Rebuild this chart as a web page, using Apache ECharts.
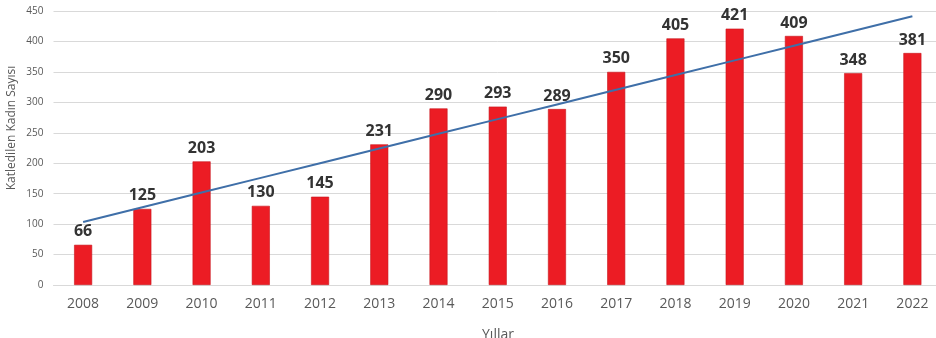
<!DOCTYPE html>
<html>
<head>
<meta charset="utf-8">
<script src="https://cdn.jsdelivr.net/npm/echarts@6/dist/echarts.min.js"></script>
<style>
  html, body { margin: 0; padding: 0; background: #ffffff; overflow: hidden; }
  /* plot area runs slightly past the right edge of the page */
  #chart { width: 942px; height: 338px; }
</style>
</head>
<body>
<div id="chart"></div>
<script>
// Years and number of women killed per year
const years = ['2008', '2009', '2010', '2011', '2012', '2013', '2014', '2015',
               '2016', '2017', '2018', '2019', '2020', '2021', '2022'];
const victims = [66, 125, 203, 130, 145, 231, 290, 293, 289, 350, 405, 421, 409, 348, 381];
const yTicks = { min: 0, max: 450, interval: 50 };

// Linear least-squares trend over the yearly counts
function linearTrend(values) {
  const n = values.length;
  const mx = (n - 1) / 2;
  const my = values.reduce((a, b) => a + b, 0) / n;
  let sxy = 0, sxx = 0;
  values.forEach((v, i) => { sxy += (i - mx) * (v - my); sxx += (i - mx) * (i - mx); });
  const slope = sxy / sxx;
  return values.map((_, i) => my + slope * (i - mx));
}
const trend = linearTrend(victims);

const chart = echarts.init(document.getElementById('chart'));
chart.setOption({
  animation: false,
  backgroundColor: '#ffffff',
  textStyle: { fontFamily: 'Open Sans' },
  grid: { left: 53.5, right: 0, top: 11, height: 274 },
  xAxis: {
    type: 'category',
    data: years,
    axisLine: { lineStyle: { color: '#d9d9d9' } },
    axisTick: { show: false },
    axisLabel: { color: '#595959', fontSize: 14, margin: 12 }
  },
  yAxis: {
    type: 'value',
    min: yTicks.min, max: yTicks.max, interval: yTicks.interval,
    axisLine: { show: false },
    axisTick: { show: false },
    splitLine: { lineStyle: { color: '#d9d9d9' } },
    axisLabel: { color: '#595959', fontSize: 10, margin: 10 }
  },
  graphic: [
    {
      type: 'text', x: 12, y: 128, rotation: Math.PI / 2,
      style: { text: 'Katledilen Kadın Sayısı', fill: '#595959', fontSize: 12,
               fontFamily: 'Open Sans', align: 'center', verticalAlign: 'middle' }
    },
    {
      type: 'text', x: 498, y: 335,
      style: { text: 'Yıllar', fill: '#595959', fontSize: 14,
               fontFamily: 'Open Sans', align: 'center', verticalAlign: 'middle' }
    }
  ],
  series: [
    {
      type: 'bar',
      data: victims,
      barWidth: 18,
      itemStyle: { color: '#ec1c24', borderColor: '#c8161c', borderWidth: 0.6 },
      label: {
        show: true, position: 'top', distance: 5,
        color: '#333333', fontSize: 16, fontWeight: 'bold', fontFamily: 'Open Sans'
      },
      z: 2
    },
    {
      type: 'line',
      data: trend,
      symbol: 'none',
      lineStyle: { color: '#3f6fa8', width: 2 },
      z: 3
    }
  ]
});
</script>
</body>
</html>
